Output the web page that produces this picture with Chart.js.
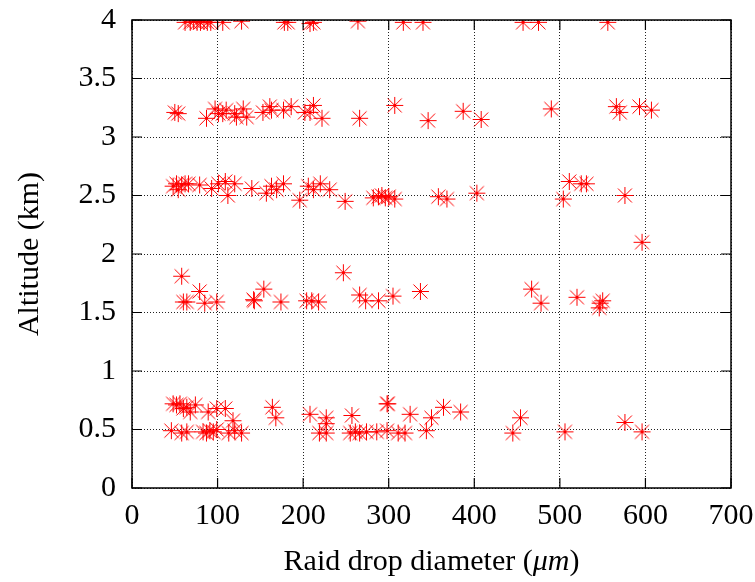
<!DOCTYPE html>
<html>
<head>
<meta charset="utf-8">
<script src="https://cdn.jsdelivr.net/npm/chart.js@4.4.1/dist/chart.umd.min.js"></script>
<style>
  html, body { margin: 0; padding: 0; background: #fff; }
  #wrap { width: 755px; height: 582px; }
</style>
</head>
<body>
<div id="wrap"><canvas id="myChart" width="755" height="582"></canvas></div>
<script>
// Drop diameters (um) and altitudes (km), grouped by measuring level
const dia_40 = [62, 68, 72, 76, 80, 84, 88, 92, 106, 128, 178, 182, 208, 212, 264, 317, 340, 457, 475, 556];
const alt_40 = [3.98, 3.98, 3.99, 3.98, 3.98, 3.99, 3.98, 3.98, 3.98, 3.99, 3.98, 3.98, 3.97, 3.98, 3.99, 3.98, 3.98, 3.98, 3.98, 3.98];

const dia_32 = [50, 54, 87, 97, 101, 106, 110, 120, 122, 130, 134, 153, 161, 163, 177, 186, 202, 208, 212, 222, 266, 307, 346, 387, 408, 490, 566, 570, 593, 607];
const alt_32 = [3.21, 3.20, 3.16, 3.24, 3.20, 3.20, 3.23, 3.20, 3.17, 3.24, 3.17, 3.21, 3.26, 3.23, 3.23, 3.26, 3.21, 3.21, 3.27, 3.16, 3.16, 3.27, 3.14, 3.22, 3.15, 3.24, 3.26, 3.21, 3.26, 3.23];

const dia_25 = [48, 52, 54, 58, 62, 66, 79, 93, 101, 109, 112, 120, 140, 157, 163, 169, 177, 196, 206, 212, 220, 231, 249, 282, 288, 292, 296, 300, 307, 358, 368, 403, 504, 511, 525, 531, 576, 596];
const alt_25 = [2.58, 2.60, 2.55, 2.59, 2.60, 2.60, 2.59, 2.56, 2.60, 2.62, 2.50, 2.60, 2.56, 2.52, 2.58, 2.55, 2.60, 2.46, 2.58, 2.55, 2.60, 2.55, 2.45, 2.48, 2.49, 2.50, 2.48, 2.49, 2.47, 2.49, 2.47, 2.52, 2.47, 2.62, 2.60, 2.60, 2.50, 2.10];

const dia_16 = [58, 60, 64, 79, 85, 99, 142, 143, 154, 174, 204, 210, 218, 247, 266, 273, 288, 305, 337, 467, 478, 520, 546, 547, 550];
const alt_16 = [1.81, 1.59, 1.59, 1.68, 1.58, 1.59, 1.61, 1.60, 1.70, 1.59, 1.60, 1.60, 1.59, 1.84, 1.65, 1.60, 1.60, 1.64, 1.68, 1.70, 1.58, 1.63, 1.54, 1.58, 1.60];

const dia_07 = [48, 52, 56, 60, 64, 68, 74, 89, 99, 109, 118, 164, 168, 208, 227, 227, 257, 298, 299, 325, 350, 364, 384, 445, 454, 506, 576, 596];
const alt_07 = [0.72, 0.71, 0.72, 0.68, 0.69, 0.65, 0.71, 0.65, 0.68, 0.68, 0.575, 0.69, 0.60, 0.63, 0.60, 0.55, 0.62, 0.72, 0.72, 0.63, 0.60, 0.69, 0.65, 0.47, 0.60, 0.48, 0.56, 0.48];

const dia_05 = [46, 58, 64, 83, 87, 91, 95, 99, 113, 120, 128, 219, 227, 255, 261, 266, 274, 286, 298, 311, 319, 344];
const alt_05 = [0.49, 0.47, 0.48, 0.48, 0.47, 0.49, 0.48, 0.50, 0.47, 0.49, 0.47, 0.47, 0.47, 0.47, 0.48, 0.47, 0.48, 0.48, 0.49, 0.47, 0.47, 0.49];

const xTicks = [0, 100, 200, 300, 400, 500, 600, 700];
const yTicks = [0, 0.5, 1, 1.5, 2, 2.5, 3, 3.5, 4];

const FONT = 'Liberation Serif';

const groups = [
  [dia_40, alt_40], [dia_32, alt_32], [dia_25, alt_25],
  [dia_16, alt_16], [dia_07, alt_07], [dia_05, alt_05]
];
const points = [];
groups.forEach(([xs, ys]) => {
  xs.forEach((x, i) => points.push({ x: x, y: ys[i] }));
});

// gnuplot style star marker: plus and cross filling the same box
const star = document.createElement('canvas');
star.width = 19; star.height = 19;
(() => {
  const c = star.getContext('2d');
  c.strokeStyle = '#ff0000';
  c.lineWidth = 1;
  c.beginPath();
  c.moveTo(9.5, 1); c.lineTo(9.5, 18);
  c.moveTo(1, 9.5); c.lineTo(18, 9.5);
  c.moveTo(2.5, 2.5); c.lineTo(16.5, 16.5);
  c.moveTo(16.5, 2.5); c.lineTo(2.5, 16.5);
  c.stroke();
})();

// frame, inward ticks on all sides, axis titles
const framePlugin = {
  id: 'frame',
  afterDraw(chart) {
    const { ctx, chartArea: a, scales } = chart;
    ctx.save();
    ctx.strokeStyle = '#000';
    ctx.lineWidth = 1.5;
    ctx.strokeRect(a.left, a.top, a.right - a.left, a.bottom - a.top);

    ctx.lineWidth = 1.2;
    ctx.beginPath();
    xTicks.forEach(v => {
      const px = scales.x.getPixelForValue(v);
      ctx.moveTo(px, a.bottom); ctx.lineTo(px, a.bottom - 10);
      ctx.moveTo(px, a.top); ctx.lineTo(px, a.top + 10);
    });
    yTicks.forEach(v => {
      const py = scales.y.getPixelForValue(v);
      ctx.moveTo(a.left, py); ctx.lineTo(a.left + 10, py);
      ctx.moveTo(a.right, py); ctx.lineTo(a.right - 10, py);
    });
    ctx.stroke();

    // x title with italic unit
    ctx.fillStyle = '#000';
    ctx.textBaseline = 'alphabetic';
    const p1 = 'Raid drop diameter (', p2 = '\u03bcm', p3 = ')';
    const up = '30px "' + FONT + '"', it = 'italic 30px "' + FONT + '"';
    ctx.font = up; const w1 = ctx.measureText(p1).width, w3 = ctx.measureText(p3).width;
    ctx.font = it; const w2 = ctx.measureText(p2).width;
    let x0 = (a.left + a.right) / 2 - (w1 + w2 + w3) / 2;
    const yb = 570;
    ctx.textAlign = 'left';
    ctx.font = up; ctx.fillText(p1, x0, yb);
    ctx.font = it; ctx.fillText(p2, x0 + w1, yb);
    ctx.font = up; ctx.fillText(p3, x0 + w1 + w2, yb);

    // y title
    ctx.translate(38, (a.top + a.bottom) / 2);
    ctx.rotate(-Math.PI / 2);
    ctx.textAlign = 'center';
    ctx.font = up;
    ctx.fillText('Altitude (km)', 0, 0);
    ctx.restore();
  }
};

new Chart(document.getElementById('myChart'), {
  type: 'scatter',
  data: {
    datasets: [{
      label: 'drops',
      data: points,
      pointStyle: star,
      pointRadius: 9,
      pointHoverRadius: 9,
      borderColor: '#ff0000',
      backgroundColor: '#ff0000',
      borderWidth: 1
    }]
  },
  options: {
    responsive: false,
    devicePixelRatio: 1,
    animation: false,
    layout: { padding: { top: 20, right: 24, left: 0, bottom: 0 } },
    plugins: {
      legend: { display: false },
      tooltip: { enabled: false }
    },
    scales: {
      x: {
        type: 'linear',
        min: 0, max: 700,
        afterBuildTicks: s => { s.ticks = xTicks.map(v => ({ value: v })); },
        afterFit: s => { s.height = 94; s.paddingLeft = 0; s.paddingRight = 0; },
        ticks: { color: '#000', padding: 10, font: { family: FONT, size: 30 }, callback: v => String(v) },
        grid: { color: '#222', lineWidth: 1, drawTicks: false },
        border: { display: false, dash: [1, 2] }
      },
      y: {
        type: 'linear',
        min: 0, max: 4,
        afterBuildTicks: s => { s.ticks = yTicks.map(v => ({ value: v })); },
        afterFit: s => { s.width = 132; s.paddingTop = 0; s.paddingBottom = 0; },
        ticks: { color: '#000', padding: 16, font: { family: FONT, size: 30 }, callback: v => String(v) },
        grid: { color: '#222', lineWidth: 1, drawTicks: false },
        border: { display: false, dash: [1, 2] }
      }
    }
  },
  plugins: [framePlugin]
});
</script>
</body>
</html>
